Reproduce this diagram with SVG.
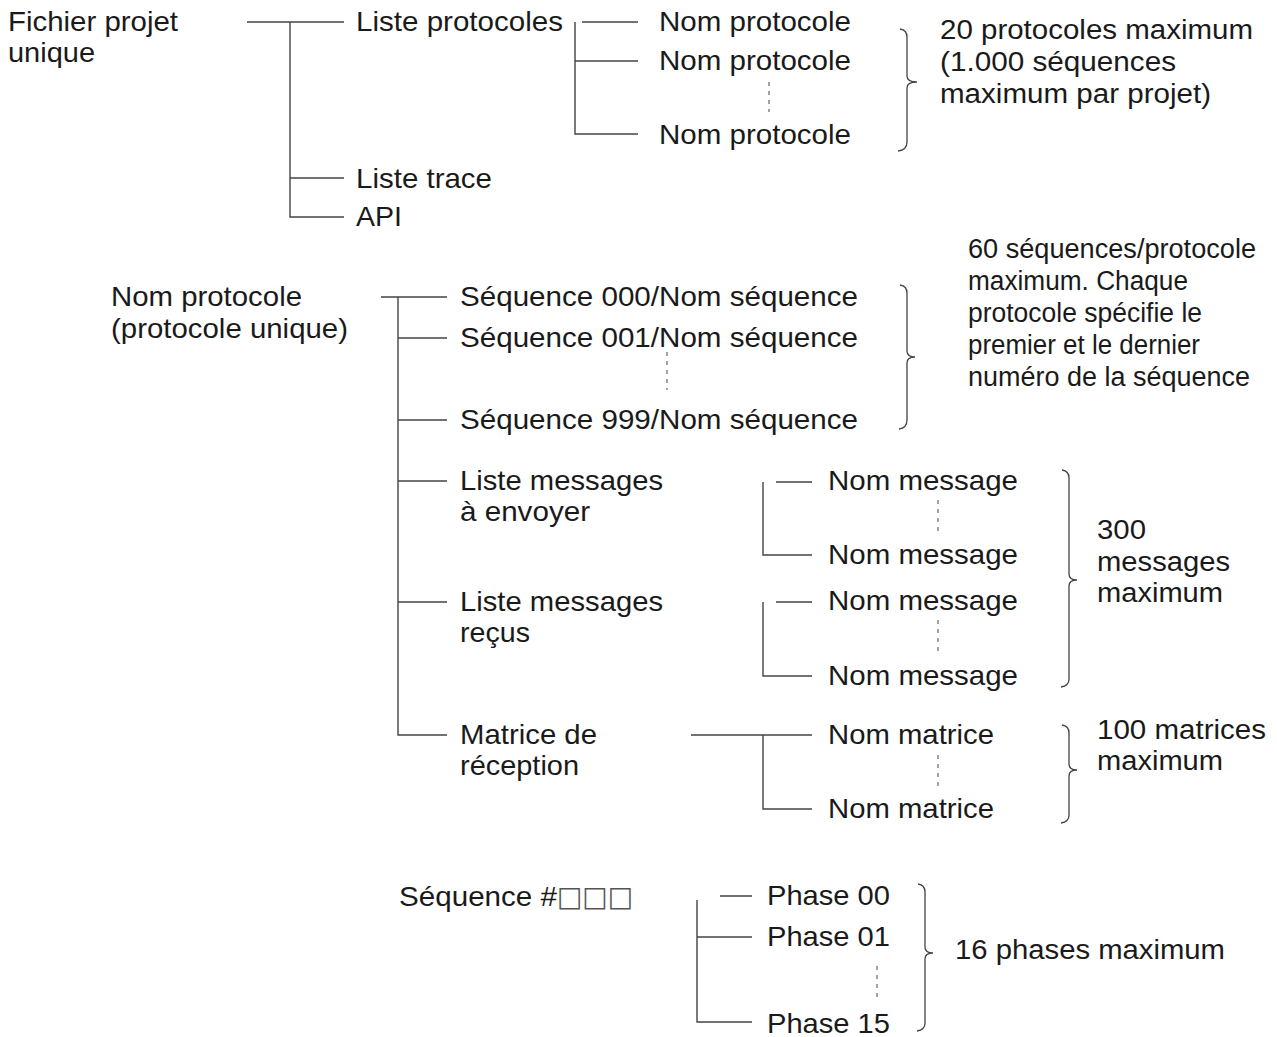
<svg xmlns="http://www.w3.org/2000/svg" width="1277" height="1037" viewBox="0 0 1277 1037">
<style>
text{font-family:"Liberation Sans",Arial,sans-serif;font-size:28px;fill:#1a1a1a}
.n{font-size:27px}
.ln{stroke:#444;stroke-width:1.4;fill:none}
.dot{stroke:#666;stroke-width:1.2;stroke-dasharray:4 5;fill:none}
.br{stroke:#444;stroke-width:1.3;fill:none}
</style>
<rect width="1277" height="1037" fill="#fff"/>
<g id="connectors">
<path class="ln" d="M247 22H344M290 22V217H344M290 178H344"/>
<path class="ln" d="M575 22V134H638M582 22H638M575 61H638"/>
<path class="dot" d="M769 82V112"/>
<path class="ln" d="M381 297H447M398 297V735H447M398 338H447M398 420H447M398 481H447M398 602H447"/>
<path class="dot" d="M667 352V390"/>
<path class="ln" d="M763 482V555H812M776 482H812"/>
<path class="dot" d="M938 500V532"/>
<path class="ln" d="M763 602V676H812M776 602H812"/>
<path class="dot" d="M938 620V652"/>
<path class="ln" d="M691 735H812M763 735V809H812"/>
<path class="dot" d="M938 755V787"/>
<path class="ln" d="M697 900V1022H752M720 896H752M697 937H752"/>
<path class="dot" d="M877 966V1000"/>
<path class="br" d="M900 29Q907 30 907 37V76Q907 82 917 82Q907 82 907 88V142Q907 150 898 151"/>
<path class="br" d="M900 285Q907 286 907 293V351Q907 357 915 357Q907 357 907 363V420Q907 428 899 429"/>
<path class="br" d="M1062 470Q1069 471 1069 478V574Q1069 580 1077 580Q1069 580 1069 586V679Q1069 686 1061 687"/>
<path class="br" d="M1062 725Q1069 726 1069 733V764Q1069 770 1077 770Q1069 770 1069 776V815Q1069 822 1061 823"/>
<path class="br" d="M918 884Q925 885 925 892V947Q925 953 933 953Q925 953 925 959V1023Q925 1030 917 1031"/>
</g>
<g id="n-fichier"><text x="8" y="31" textLength="170" lengthAdjust="spacingAndGlyphs">Fichier projet</text><text x="8" y="62" textLength="87" lengthAdjust="spacingAndGlyphs">unique</text></g>
<g id="n-liste-protocoles"><text x="356" y="31" textLength="207" lengthAdjust="spacingAndGlyphs">Liste protocoles</text></g>
<g id="n-nom-protocole-1"><text x="659" y="31" textLength="192" lengthAdjust="spacingAndGlyphs">Nom protocole</text></g>
<g id="n-nom-protocole-2"><text x="659" y="70" textLength="192" lengthAdjust="spacingAndGlyphs">Nom protocole</text></g>
<g id="n-nom-protocole-3"><text x="659" y="144" textLength="192" lengthAdjust="spacingAndGlyphs">Nom protocole</text></g>
<g id="n-note-protocoles"><text class="n" x="940" y="39" textLength="313" lengthAdjust="spacingAndGlyphs">20 protocoles maximum</text><text class="n" x="940" y="71" textLength="236" lengthAdjust="spacingAndGlyphs">(1.000 séquences</text><text class="n" x="940" y="103" textLength="271" lengthAdjust="spacingAndGlyphs">maximum par projet)</text></g>
<g id="n-liste-trace"><text x="356" y="188" textLength="136" lengthAdjust="spacingAndGlyphs">Liste trace</text></g>
<g id="n-api"><text x="356" y="226" textLength="46" lengthAdjust="spacingAndGlyphs">API</text></g>
<g id="n-nom-protocole-root"><text x="111" y="306" textLength="191" lengthAdjust="spacingAndGlyphs">Nom protocole</text><text x="111" y="338" textLength="237" lengthAdjust="spacingAndGlyphs">(protocole unique)</text></g>
<g id="n-seq-000"><text x="460" y="306" textLength="398" lengthAdjust="spacingAndGlyphs">Séquence 000/Nom séquence</text></g>
<g id="n-seq-001"><text x="460" y="347" textLength="398" lengthAdjust="spacingAndGlyphs">Séquence 001/Nom séquence</text></g>
<g id="n-seq-999"><text x="460" y="429" textLength="398" lengthAdjust="spacingAndGlyphs">Séquence 999/Nom séquence</text></g>
<g id="n-note-sequences"><text class="n" x="968" y="258" textLength="288" lengthAdjust="spacingAndGlyphs">60 séquences/protocole</text><text class="n" x="968" y="290" textLength="220" lengthAdjust="spacingAndGlyphs">maximum. Chaque</text><text class="n" x="968" y="322" textLength="234" lengthAdjust="spacingAndGlyphs">protocole spécifie le</text><text class="n" x="968" y="354" textLength="232" lengthAdjust="spacingAndGlyphs">premier et le dernier</text><text class="n" x="968" y="386" textLength="282" lengthAdjust="spacingAndGlyphs">numéro de la séquence</text></g>
<g id="n-msg-envoyer"><text x="460" y="490" textLength="203" lengthAdjust="spacingAndGlyphs">Liste messages</text><text x="460" y="521" textLength="130" lengthAdjust="spacingAndGlyphs">à envoyer</text></g>
<g id="n-msg-recus"><text x="460" y="611" textLength="203" lengthAdjust="spacingAndGlyphs">Liste messages</text><text x="460" y="642" textLength="70" lengthAdjust="spacingAndGlyphs">reçus</text></g>
<g id="n-matrice"><text x="460" y="744" textLength="137" lengthAdjust="spacingAndGlyphs">Matrice de</text><text x="460" y="775" textLength="119" lengthAdjust="spacingAndGlyphs">réception</text></g>
<g id="n-nom-message-1"><text x="828" y="490" textLength="190" lengthAdjust="spacingAndGlyphs">Nom message</text></g>
<g id="n-nom-message-2"><text x="828" y="564" textLength="190" lengthAdjust="spacingAndGlyphs">Nom message</text></g>
<g id="n-nom-message-3"><text x="828" y="610" textLength="190" lengthAdjust="spacingAndGlyphs">Nom message</text></g>
<g id="n-nom-message-4"><text x="828" y="685" textLength="190" lengthAdjust="spacingAndGlyphs">Nom message</text></g>
<g id="n-note-messages"><text class="n" x="1097" y="539" textLength="49" lengthAdjust="spacingAndGlyphs">300</text><text class="n" x="1097" y="571" textLength="133" lengthAdjust="spacingAndGlyphs">messages</text><text class="n" x="1097" y="602" textLength="126" lengthAdjust="spacingAndGlyphs">maximum</text></g>
<g id="n-nom-matrice-1"><text x="828" y="744" textLength="166" lengthAdjust="spacingAndGlyphs">Nom matrice</text></g>
<g id="n-nom-matrice-2"><text x="828" y="818" textLength="166" lengthAdjust="spacingAndGlyphs">Nom matrice</text></g>
<g id="n-note-matrices"><text class="n" x="1097" y="739" textLength="169" lengthAdjust="spacingAndGlyphs">100 matrices</text><text class="n" x="1097" y="770" textLength="126" lengthAdjust="spacingAndGlyphs">maximum</text></g>
<g id="n-sequence"><text x="399" y="906"><tspan textLength="158" lengthAdjust="spacingAndGlyphs">Séquence #</tspan><tspan font-family="'DejaVu Sans',sans-serif" fill="#555" textLength="76" lengthAdjust="spacingAndGlyphs">□□□</tspan></text></g>
<g id="n-phase-00"><text x="767" y="905" textLength="123" lengthAdjust="spacingAndGlyphs">Phase 00</text></g>
<g id="n-phase-01"><text x="767" y="946" textLength="123" lengthAdjust="spacingAndGlyphs">Phase 01</text></g>
<g id="n-phase-15"><text x="767" y="1033" textLength="123" lengthAdjust="spacingAndGlyphs">Phase 15</text></g>
<g id="n-note-phases"><text class="n" x="955" y="959" textLength="270" lengthAdjust="spacingAndGlyphs">16 phases maximum</text></g>
</svg>
